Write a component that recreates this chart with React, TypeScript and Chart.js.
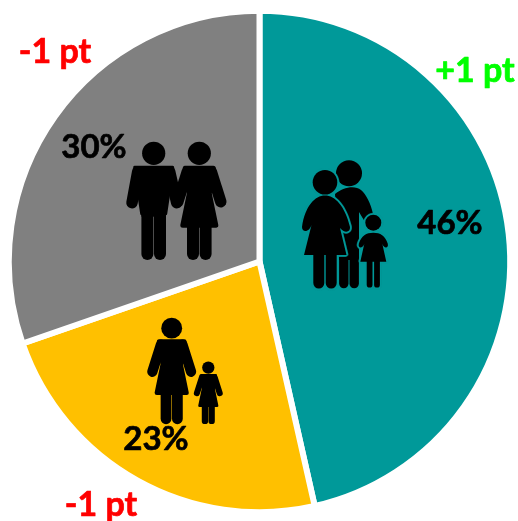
import React, { useEffect, useRef } from "react";
import { Chart, registerables } from "chart.js";

Chart.register(...registerables);

const categories = ["Family with children", "Single parent", "Couple without children"];
const shares = [46, 23, 30];
const changes = ["+1 pt", "-1 pt", "-1 pt"];
const sliceColors = ["#009999", "#FFC000", "#808080"];
const changeColors = ["#00FF00", "#FF0000", "#FF0000"];

const SHARE_FONT = "bold 33px Lato, Carlito, sans-serif";
const CHANGE_FONT = "bold 34px Lato, Carlito, sans-serif";
const sharePos = [[450, 223], [156, 439], [94, 147]];
const changePos = [[475, 71], [101, 505], [55, 52]];

type C = CanvasRenderingContext2D;

function limb(c: C, x1: number, y1: number, x2: number, y2: number, w: number) {
  c.lineWidth = w;
  c.lineCap = "round";
  c.beginPath();
  c.moveTo(x1, y1);
  c.lineTo(x2, y2);
  c.stroke();
}

function head(c: C, r: number, y: number) {
  c.beginPath();
  c.arc(0, y, r, 0, Math.PI * 2);
  c.fill();
}

function manParts(c: C) {
  head(c, 11.6, 11.6);
  c.lineJoin = "round";
  c.lineWidth = 3;
  c.beginPath();
  c.moveTo(-19, 25.5);
  c.lineTo(19, 25.5);
  c.lineTo(12, 72);
  c.lineTo(-12, 72);
  c.closePath();
  c.fill();
  c.stroke();
  limb(c, -16, 30, -21.7, 61, 11.5);
  limb(c, 16, 30, 23, 61, 11.5);
  limb(c, -6.3, 60, -6.3, 112.3, 12);
  limb(c, 6.3, 60, 6.3, 112.3, 12);
  c.fillRect(-12.3, 60, 24.6, 15);
}

function womanParts(c: C) {
  head(c, 11.6, 11.6);
  c.lineJoin = "round";
  c.lineWidth = 5;
  c.beginPath();
  c.moveTo(-14, 26.5);
  c.lineTo(14, 26.5);
  c.lineTo(10, 52);
  c.lineTo(16.5, 83.5);
  c.lineTo(-16.5, 83.5);
  c.lineTo(-10, 52);
  c.closePath();
  c.fill();
  c.stroke();
  limb(c, -12, 30, -21.5, 60, 11.5);
  limb(c, 12, 30, 21.5, 60, 11.5);
  limb(c, -6.3, 80, -6.3, 112.3, 12);
  limb(c, 6.3, 80, 6.3, 112.3, 12);
}

function roundManParts(c: C) {
  head(c, 13, 13.3);
  c.beginPath();
  c.moveTo(-14, 34);
  c.bezierCurveTo(-6, 27, 6, 25, 12, 30);
  c.bezierCurveTo(17, 34, 22, 44, 24, 54);
  c.lineTo(16, 62);
  c.lineTo(10, 52);
  c.lineTo(10, 100);
  c.lineTo(-10, 100);
  c.closePath();
  c.fill();
  limb(c, -5.2, 90, -5.2, 123.6, 9.4);
  limb(c, 5.2, 90, 5.2, 123.6, 9.4);
}

function roundWomanParts(c: C) {
  head(c, 12.3, 12.3);
  c.beginPath();
  c.moveTo(-23, 57);
  c.bezierCurveTo(-20, 36, -10, 25.5, 0, 25.5);
  c.bezierCurveTo(10, 25.5, 20, 36, 25, 57);
  c.bezierCurveTo(25.5, 63, 19, 63, 15, 58);
  c.lineTo(21.5, 85);
  c.lineTo(-21, 85);
  c.lineTo(-13, 53);
  c.bezierCurveTo(-15, 63, -23, 63, -23, 57);
  c.closePath();
  c.fill();
  limb(c, -6.2, 80, -6.2, 113, 11);
  limb(c, 6.2, 80, 6.2, 113, 11);
}

function childParts(c: C) {
  head(c, 8, 8);
  c.beginPath();
  c.moveTo(-14.5, 29);
  c.bezierCurveTo(-12, 21, -7, 18, 0, 18);
  c.bezierCurveTo(7, 18, 12, 21, 14.5, 29);
  c.bezierCurveTo(15.5, 34, 10.5, 34, 9, 29);
  c.lineTo(13, 47);
  c.lineTo(-13, 47);
  c.lineTo(-9, 29);
  c.bezierCurveTo(-10.5, 34, -15.5, 34, -14.5, 29);
  c.closePath();
  c.fill();
  limb(c, -3.7, 45, -3.7, 70, 5.8);
  limb(c, 3.7, 45, 3.7, 70, 5.8);
}

function person(
  c: C,
  parts: (c: C) => void,
  cx: number,
  top: number,
  s: number,
  halo?: string
) {
  const layer = document.createElement("canvas");
  layer.width = c.canvas.width;
  layer.height = c.canvas.height;
  const l = layer.getContext("2d") as C;
  l.translate(cx, top);
  l.scale(s, s);
  l.fillStyle = l.strokeStyle = "#000";
  parts(l);
  if (halo) {
    const tint = document.createElement("canvas");
    tint.width = layer.width;
    tint.height = layer.height;
    const g = tint.getContext("2d") as C;
    g.drawImage(layer, 0, 0);
    g.globalCompositeOperation = "source-in";
    g.fillStyle = halo;
    g.fillRect(0, 0, tint.width, tint.height);
    for (let a = 0; a < 16; a++) {
      const t = (a / 16) * Math.PI * 2;
      c.drawImage(tint, Math.cos(t) * 1.5, Math.sin(t) * 1.5);
    }
  }
  c.drawImage(layer, 0, 0);
}

const overlay = {
  id: "overlay",
  afterDatasetsDraw(chart: Chart) {
    const c = chart.ctx as C;
    const teal = sliceColors[0];
    person(c, roundManParts, 349, 160, 1);
    person(c, roundWomanParts, 325, 170, 1, teal);
    person(c, childParts, 373.3, 214.7, 1, teal);
    person(c, manParts, 153.7, 141.7, 1);
    person(c, womanParts, 199.3, 141.7, 1);
    person(c, womanParts, 171.7, 317.7, 0.9);
    person(c, womanParts, 208.3, 361.4, 0.53);

    c.save();
    c.textAlign = "center";
    c.textBaseline = "middle";
    c.lineJoin = "round";
    c.lineWidth = 0.7;
    shares.forEach((v, i) => {
      c.font = SHARE_FONT;
      c.fillStyle = c.strokeStyle = "#000";
      c.fillText(`${v}%`, sharePos[i][0], sharePos[i][1]);
      c.strokeText(`${v}%`, sharePos[i][0], sharePos[i][1]);
      c.font = CHANGE_FONT;
      c.fillStyle = c.strokeStyle = changeColors[i];
      c.fillText(changes[i], changePos[i][0], changePos[i][1]);
      c.strokeText(changes[i], changePos[i][0], changePos[i][1]);
    });
    c.restore();
  },
};

export default function App() {
  const ref = useRef<HTMLCanvasElement>(null);
  useEffect(() => {
    const chart = new Chart(ref.current as HTMLCanvasElement, {
      type: "pie",
      data: {
        labels: categories,
        datasets: [
          {
            data: shares,
            backgroundColor: sliceColors,
            borderColor: "#FFFFFF",
            borderWidth: 6,
          },
        ],
      },
      options: {
        responsive: false,
        animation: false,
        radius: 250.7,
        layout: { padding: { left: 1, top: 2 } },
        plugins: { legend: { display: false }, tooltip: { enabled: false } },
      } as any,
      plugins: [overlay as any],
    });
    return () => chart.destroy();
  }, []);
  return (
    <div style={{ position: "fixed", left: 0, top: 0, width: 518, height: 521, background: "#fff" }}>
      <canvas ref={ref} width={518} height={521} style={{ display: "block" }} />
    </div>
  );
}
